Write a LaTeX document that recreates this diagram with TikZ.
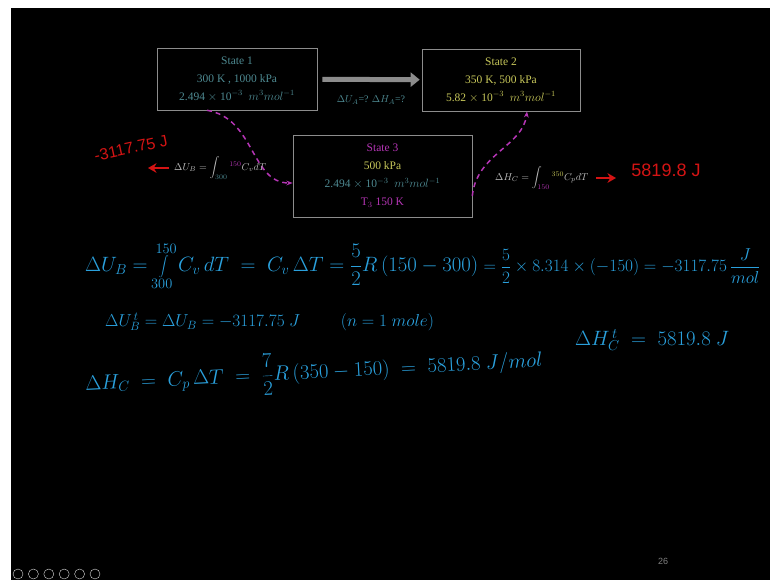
\documentclass[tikz,border=0pt]{standalone}
\usepackage{fontspec}
\setmainfont{Liberation Serif}
\setsansfont{Liberation Sans}
\usepackage{tikz}
\usetikzlibrary{arrows.meta,positioning}
\definecolor{slate}{HTML}{4E8A92}
\definecolor{lime}{HTML}{C8C85A}
\definecolor{plum}{HTML}{B535B5}
\definecolor{ink}{HTML}{2AA0DC}
\definecolor{marker}{HTML}{D41414}
\definecolor{frame}{HTML}{8C8C8C}
\definecolor{chalk}{HTML}{BDBDBD}
\tikzset{
  statebox/.style={draw=frame,semithick,fill=black,align=center,inner sep=0pt,
                   font=\fontsize{11.5}{18}\selectfont},
  bigflow/.style={-{Triangle[length=9pt,width=14pt]},frame,line width=5pt,
                  shorten <=5pt,shorten >=2pt},
  pathflow/.style={-{Stealth[length=2.2mm]},plum,line width=1.5pt,dash pattern=on 5pt off 4pt},
  redflow/.style={-{Stealth[length=3mm,width=3.4mm]},marker,line width=1.8pt},
  formula/.style={chalk,inner sep=0pt,anchor=west,font=\fontsize{10}{12}\selectfont},
  redhand/.style={marker,inner sep=0pt,font=\fontsize{16}{18}\sffamily},
  inkline/.style={ink,anchor=west,inner sep=0pt},
}

\begin{document}
\begin{tikzpicture}[x=1pt,y=-1pt]
\clip (0,0) rectangle (770,580);
\fill[white] (0,0) rectangle (770,580);
\fill[black] (11,8) rectangle (770,580);

% --- the three states ---
\node[statebox,minimum width=160pt,minimum height=62pt] (s1) at (237,79)
  {\color{slate}State 1\\ \color{slate}300 K , 1000 kPa\\
   \color{slate}2.494 $\times$ 10$^{-3}$ \ $m^3mol^{-1}$};
\node[statebox,minimum width=158pt,minimum height=62pt] (s2) at (501,80)
  {\color{lime}State 2\\ \color{lime}350 K, 500 kPa\\
   \color{lime}5.82 $\times$ 10$^{-3}$ \ $m^3mol^{-1}$};
\node[statebox,minimum width=179pt,minimum height=82pt] (s3) at (382.5,176)
  {\color{plum}State 3\\ \color{lime}500 kPa\\
   \color{slate}2.494 $\times$ 10$^{-3}$ \ $m^3mol^{-1}$\\ \color{plum}T$_3$ 150 K};

\draw[bigflow] (s1) -- (s2);
\node[slate,font=\fontsize{10}{12}\selectfont] (qa) at (371,100)
  {$\Delta U_A$=? $\Delta H_A$=?};

% --- the two legs through state 3 ---
\draw[pathflow] ([xshift=-30pt]s1.south) .. controls +(48,8) and +(-42,0) .. ([yshift=-7pt]s3.west);
\draw[pathflow] ([yshift=-20pt]s3.east) .. controls +(4,-42) and +(-4,35) .. ([xshift=26pt]s2.south);

\node[formula] (dUb) at (174,168)
  {$\Delta U_B=\displaystyle\int_{\color{slate}300}^{\color{plum}150}C_v dT$};
\node[formula] (dHc) at (495,178)
  {$\Delta H_C=\displaystyle\int_{\color{plum}150}^{\color{lime}350}C_p dT$};

% --- marker results ---
\coordinate (tipU) at (148,168);
\coordinate (tipH) at (616,178);
\draw[redflow] ([xshift=-5pt]dUb.west) -- (tipU);
\draw[redflow] ([xshift=8pt]dHc.east) -- (tipH);
\node[redhand,rotate=12] (rU) at (131,148) {-3117.75 J};
\node[redhand,font=\fontsize{18}{20}\sffamily] (rH) at (666,170) {5819.8 J};

% --- handwritten working ---
\node[inkline,font=\fontsize{21}{24}\selectfont] (w1) at (85,266)
  {$\Delta U_B=\displaystyle\int\limits_{300}^{150}C_v\,dT\;=\;C_v\,\Delta T=\frac{5}{2}R\,(150-300)$};
\node[inkline,font=\fontsize{18}{21}\selectfont,right=5pt of w1.east] (w1b)
  {$\displaystyle=\frac{5}{2}\times8.314\times(-150)=-3117.75\,\frac{J}{mol}$};
\node[inkline,font=\fontsize{18}{22}\selectfont] (w2) at (105,322)
  {$\Delta U_B^{\,t}=\Delta U_B=-3117.75\ J\qquad\;(n=1\ mole)$};
\node[inkline,font=\fontsize{20}{24}\selectfont] (w3) at (575,340)
  {$\Delta H_C^{\,t}\;=\;5819.8\ J$};
\node[inkline,font=\fontsize{21}{24}\selectfont,rotate=3] (w4) at (85,384)
  {$\displaystyle\Delta H_C\;=\;C_p\,\Delta T\;=\;\frac{7}{2}R\,(350-150)\;=\;5819.8\ J/mol$};

% --- slide footer ---
\node[gray,font=\fontsize{9}{10}\sffamily] (pg) at (663,561) {26};
\foreach \i in {0,...,5}
  \draw[gray!30] (18+15.4*\i,574) circle (5pt);

\end{tikzpicture}
\end{document}
